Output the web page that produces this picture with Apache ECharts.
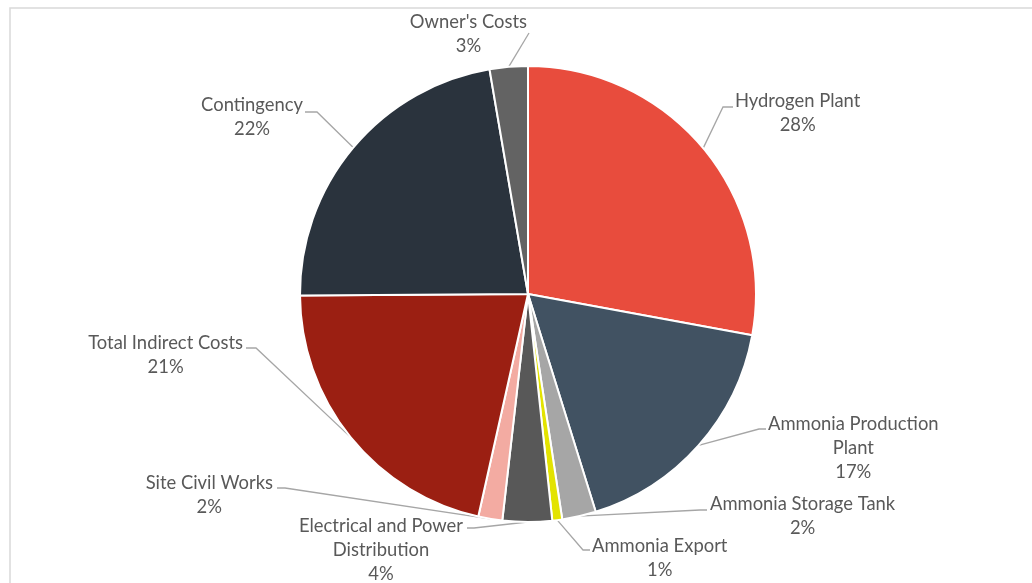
<!DOCTYPE html>
<html>
<head>
<meta charset="utf-8">
<title>Capital Cost Breakdown</title>
<script src="https://cdn.jsdelivr.net/npm/echarts@6/dist/echarts.min.js"></script>
<style>
  html, body { margin: 0; padding: 0; background: #ffffff; }
  #chart { width: 1032px; height: 583px; }
</style>
</head>
<body>
<div id="chart"></div>
<script>
// Cost categories, clockwise from 12 o'clock
const categories = [
  'Hydrogen Plant',
  'Ammonia Production Plant',
  'Ammonia Storage Tank',
  'Ammonia Export',
  'Electrical and Power Distribution',
  'Site Civil Works',
  'Total Indirect Costs',
  'Contingency',
  "Owner's Costs"
];
// Share of total capital cost (%)
const shares = [27.9, 17.3, 2.4, 0.7, 3.5, 1.7, 21.4, 22.4, 2.7];

const sliceColors = [
  '#e84c3d', '#415262', '#a6a6a6', '#e3e300', '#585858',
  '#f3aba2', '#9b1f12', '#2a333d', '#636363'
];

// Label placement: side of the leader line the text sits on, text edge x,
// first-line centre y, leader elbow and leader end, and how many words go
// on the first line when the name wraps.
const labelPlacement = [
  { side: 1,  edge: 735, y: 101, elbow: [723, 107], end: [733, 107] },
  { side: 1,  edge: 768, y: 424, elbow: [759, 429], end: [766, 429], wrap: 2 },
  { side: 1,  edge: 710, y: 504, elbow: [700, 510], end: [707, 510] },
  { side: 1,  edge: 592, y: 546, elbow: [583, 550], end: [590, 550] },
  { side: -1, edge: 463, y: 526, elbow: [474, 528], end: [467, 528], wrap: 3 },
  { side: -1, edge: 273, y: 483, elbow: [285, 488], end: [277, 488] },
  { side: -1, edge: 243, y: 343, elbow: [256, 348], end: [246, 348] },
  { side: -1, edge: 303, y: 105, elbow: [317, 112], end: [305, 112] },
  { side: -1, edge: 527, y: 22,  elbow: [529, 33],  end: [529, 33] }
];

const LINE_H = 24;

function labelName(name, idx) {
  const n = labelPlacement[idx].wrap;
  if (!n) return name;
  const words = name.split(' ');
  return words.slice(0, n).join(' ') + '\n' + words.slice(n).join(' ');
}

const chart = echarts.init(document.getElementById('chart'), null, { renderer: 'canvas' });

const seriesData = categories.map((name, i) => ({
  name: name,
  value: shares[i],
  itemStyle: { color: sliceColors[i] }
}));

chart.setOption({
  animation: false,
  backgroundColor: '#ffffff',
  graphic: [{
    type: 'rect',
    shape: { x: 10, y: 8, width: 1100, height: 700 },
    style: { fill: null, stroke: '#d9d9d9', lineWidth: 1.5 },
    silent: true
  }],
  series: [{
    type: 'pie',
    center: [528, 294],
    radius: 228,
    startAngle: 90,
    clockwise: true,
    avoidLabelOverlap: false,
    emphasis: { disabled: true },
    itemStyle: { borderColor: '#ffffff', borderWidth: 2 },
    label: {
      show: true,
      position: 'outside',
      color: '#595959',
      fontFamily: 'Lato',
      fontSize: 18.4,
      lineHeight: LINE_H,
      align: 'center',
      formatter: p => labelName(p.name, p.dataIndex) + '\n' + Math.round(p.value) + '%'
    },
    labelLine: {
      show: true,
      length: 10,
      length2: 10,
      lineStyle: { color: '#a6a6a6', width: 1.3 }
    },
    labelLayout: function (params) {
      const lp = labelPlacement[params.dataIndex];
      const w = params.labelRect.width;
      const start = params.labelLinePoints ? params.labelLinePoints[0] : lp.elbow;
      return {
        x: lp.side > 0 ? lp.edge + w / 2 : lp.edge - w / 2,
        y: lp.y - LINE_H / 2,
        align: 'center',
        verticalAlign: 'top',
        labelLinePoints: [start, lp.elbow, lp.end]
      };
    },
    data: seriesData
  }]
});
</script>
</body>
</html>
